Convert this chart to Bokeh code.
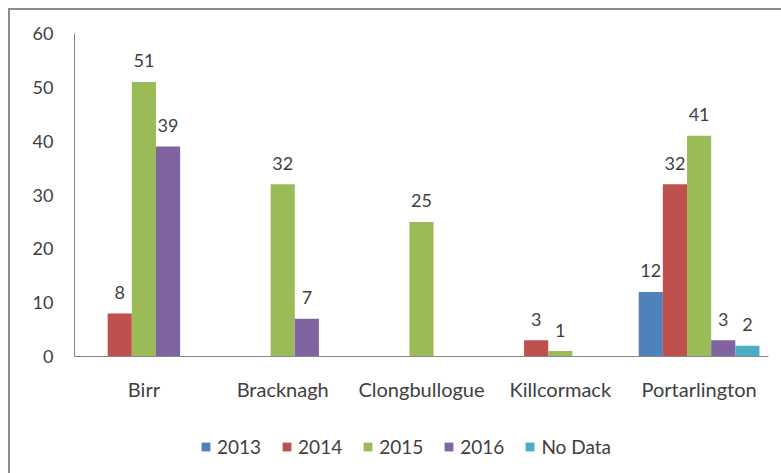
from bokeh.plotting import figure
from bokeh.layouts import column
from bokeh.models import (ColumnDataSource, FactorRange, Legend, LegendItem, FixedTicker, LabelSet,
                          InlineStyleSheet, Range1d)
from bokeh.core.properties import value
from bokeh.transform import dodge
from bokeh.embed import file_html
from bokeh.resources import INLINE

categories = ["Birr", "Bracknagh", "Clongbullogue", "Killcormack", "Portarlington"]
series = ["2013", "2014", "2015", "2016", "No Data"]
v2013 = [0, 0, 0, 0, 12]
v2014 = [8, 0, 0, 3, 32]
v2015 = [51, 32, 25, 1, 41]
v2016 = [39, 7, 0, 0, 3]
vnodata = [0, 0, 0, 0, 2]
colors = ["#4F81BD", "#C0504D", "#9BBB59", "#8064A2", "#4BACC6"]
y_ticks = [0, 10, 20, 30, 40, 50, 60]

values = [v2013, v2014, v2015, v2016, vnodata]

FONT = "Lato"
TXT = "#404040"
bw = 0.174
offsets = [-2 * bw, -bw, 0, bw, 2 * bw]

top_css = InlineStyleSheet(css="""
:host::after {
  content: "";
  position: absolute;
  left: 8px; top: 8px; right: 0; bottom: 0;
  border-left: 2px solid #8c8c8c;
  border-top: 2px solid #8c8c8c;
  pointer-events: none;
  z-index: 10;
}
""")
bottom_css = InlineStyleSheet(css="""
:host::after {
  content: "";
  position: absolute;
  left: 8px; top: 0; right: 0; bottom: 0;
  border-left: 2px solid #8c8c8c;
  pointer-events: none;
  z-index: 10;
}
""")

p = figure(x_range=FactorRange(*categories, range_padding=0), y_range=(0, 60),
           width=781, height=410, output_backend="svg", toolbar_location=None,
           min_border_left=74, min_border_right=13, min_border_top=33, min_border_bottom=54,
           stylesheets=[top_css])
p.outline_line_color = None
p.xgrid.visible = False
p.ygrid.visible = False

# legend strip below the chart (frame aligned with the chart's frame by the column layout)
p2 = figure(x_range=p.x_range, y_range=Range1d(-200, -100),
            width=781, height=63, output_backend="svg", toolbar_location=None,
            x_axis_location=None, y_axis_location=None,
            min_border_left=74, min_border_right=13, min_border_top=0, min_border_bottom=0,
            stylesheets=[bottom_css])
p2.outline_line_color = None
p2.xgrid.visible = False
p2.ygrid.visible = False

items = []
for name, vals, col, off in zip(series, values, colors, offsets):
    src = ColumnDataSource(dict(cat=categories, val=vals))
    p.vbar(x=dodge("cat", off, range=p.x_range), top="val", width=bw, source=src,
           fill_color=col, line_color=None)
    # zero-width copies in the legend strip, only to provide the legend swatches
    r2 = p2.vbar(x=dodge("cat", off, range=p.x_range), top="val", width=0, source=src,
                 fill_color=col, line_color=None)
    items.append(LegendItem(label=name, renderers=[r2]))
    lab_cats = [c for c, v in zip(categories, vals) if v > 0]
    lab_vals = [v for v in vals if v > 0]
    lsrc = ColumnDataSource(dict(cat=lab_cats, val=lab_vals, txt=[str(v) for v in lab_vals]))
    p.add_layout(LabelSet(x=dodge("cat", off, range=p.x_range), y="val", text="txt", source=lsrc,
                          text_align="center", text_baseline="middle", y_offset=21,
                          text_font=value(FONT), text_font_size=value("18px"), text_color=TXT))

p.yaxis.ticker = FixedTicker(ticks=y_ticks)
for ax in (p.xaxis, p.yaxis):
    ax.axis_line_color = "#868686"
    ax.major_tick_line_color = None
    ax.minor_tick_line_color = None
    ax.major_tick_out = 0
    ax.major_label_text_font = FONT
    ax.major_label_text_color = TXT
p.yaxis.major_label_text_font_size = "18px"
p.xaxis.major_label_text_font_size = "20px"
p.yaxis.major_label_standoff = 21
p.xaxis.major_label_standoff = 20

legend = Legend(items=items, orientation="horizontal", location=(126, 15),
                glyph_width=11, glyph_height=11, label_standoff=6, spacing=20,
                label_text_font=FONT, label_text_font_size="19px", label_text_color=TXT,
                border_line_color=None, background_fill_alpha=0, padding=0, margin=0)
p2.add_layout(legend)

layout = column(p, p2, spacing=0)
open("out.html", "w").write(file_html(layout, INLINE))
